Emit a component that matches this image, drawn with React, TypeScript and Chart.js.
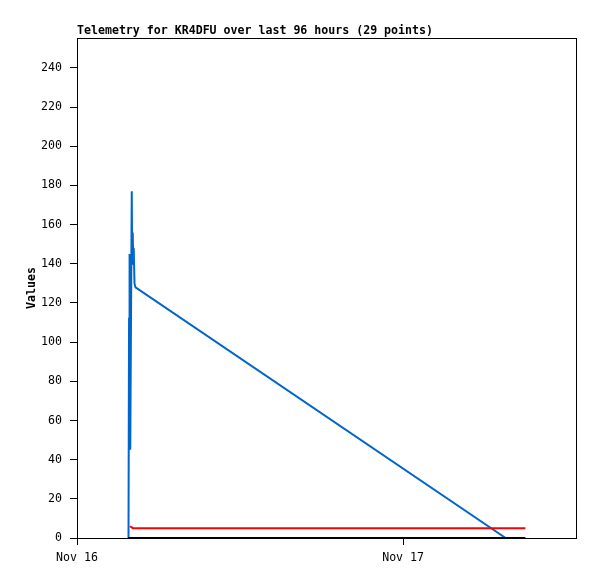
import React, { useEffect, useRef } from "react";
import { Chart, registerables } from "chart.js";
Chart.register(...registerables);

// hours since Nov 16 00:00
const blueHours = [3.79, 3.83, 3.87, 3.92, 4.03, 4.064, 4.101, 4.137, 4.174, 4.233, 4.307, 31.55];
const blueValues = [0, 112, 145, 45, 177, 140, 156, 142, 148, 130, 128, 0];
const redHours = [3.9, 4.0, 4.12, 33.0];
const redValues = [6, 5.5, 5, 5];
const blackHours = [3.75, 33.0];
const blackValues = [0, 0];
const xTickHours = [0, 24];
const xTickLabels = ["Nov 16", "Nov 17"];
const titleText = "Telemetry for KR4DFU over last 96 hours (29 points)";

const FONT = "'DejaVu Sans Mono', 'Liberation Mono', monospace";

export default function App() {
  const ref = useRef<HTMLCanvasElement>(null);
  useEffect(() => {
    document.body.style.margin = "0";
    const toPts = (xs: number[], ys: number[]) => xs.map((x, i) => ({ x, y: ys[i] }));
    const framePlugin = {
      id: "frame",
      afterDraw(chart: any) {
        const { ctx, chartArea } = chart;
        ctx.save();
        ctx.strokeStyle = "#000";
        ctx.lineWidth = 1;
        ctx.strokeRect(chartArea.left + 0.5, chartArea.top + 0.5, chartArea.right - chartArea.left - 1, chartArea.bottom - chartArea.top);
        ctx.fillStyle = "#000";
        ctx.font = `bold 11.6px ${FONT}`;
        ctx.textAlign = "left";
        ctx.textBaseline = "alphabetic";
        ctx.fillText(titleText, chartArea.left, chartArea.top - 4);
        ctx.restore();
      },
    };
    const chart = new Chart(ref.current!, {
      type: "line",
      data: {
        datasets: [
          { data: toPts(blackHours, blackValues), borderColor: "#000000", borderWidth: 2, pointRadius: 0, tension: 0 },
          { data: toPts(redHours, redValues), borderColor: "#ff0000", borderWidth: 2, pointRadius: 0, tension: 0 },
          { data: toPts(blueHours, blueValues), borderColor: "#0066cc", borderWidth: 2, pointRadius: 0, tension: 0 },
        ],
      },
      options: {
        responsive: false,
        animation: false,
        layout: { padding: { top: 38, right: 20, left: 0, bottom: 0 } },
        plugins: { legend: { display: false }, title: { display: false }, tooltip: { enabled: false } },
        scales: {
          x: {
            type: "linear",
            min: 0,
            max: 36.8,
            afterFit: (s: any) => { s.height = 41; },
            afterBuildTicks: (s: any) => { s.ticks = xTickHours.map((v) => ({ value: v })); },
            ticks: {
              color: "#000",
              font: { family: FONT, size: 11.6 },
              padding: 6,
              maxRotation: 0,
              autoSkip: false,
              callback: (v: any) => { const i = xTickHours.indexOf(Number(v)); return i >= 0 ? xTickLabels[i] : ""; },
            },
            grid: { drawOnChartArea: false, drawTicks: true, tickLength: 7, color: "#000" },
            border: { display: false },
          },
          y: {
            min: 0,
            max: 255.3,
            afterFit: (s: any) => { s.width = 77; },
            afterBuildTicks: (s: any) => {
              const t = [];
              for (let v = 0; v <= 240; v += 20) t.push({ value: v });
              s.ticks = t;
            },
            ticks: { color: "#000", font: { family: FONT, size: 11.6 }, padding: 8, autoSkip: false },
            grid: { drawOnChartArea: false, drawTicks: true, tickLength: 7, color: "#000" },
            border: { display: false },
            title: { display: true, text: "Values", color: "#000", font: { family: FONT, size: 11.6, weight: "bold" }, padding: { top: 25, bottom: 4 } },
          },
        },
      },
      plugins: [framePlugin],
    } as any);
    return () => chart.destroy();
  }, []);
  return (
    <div style={{ width: 597, height: 579, background: "#fff" }}>
      <canvas ref={ref} width={597} height={579} />
    </div>
  );
}
